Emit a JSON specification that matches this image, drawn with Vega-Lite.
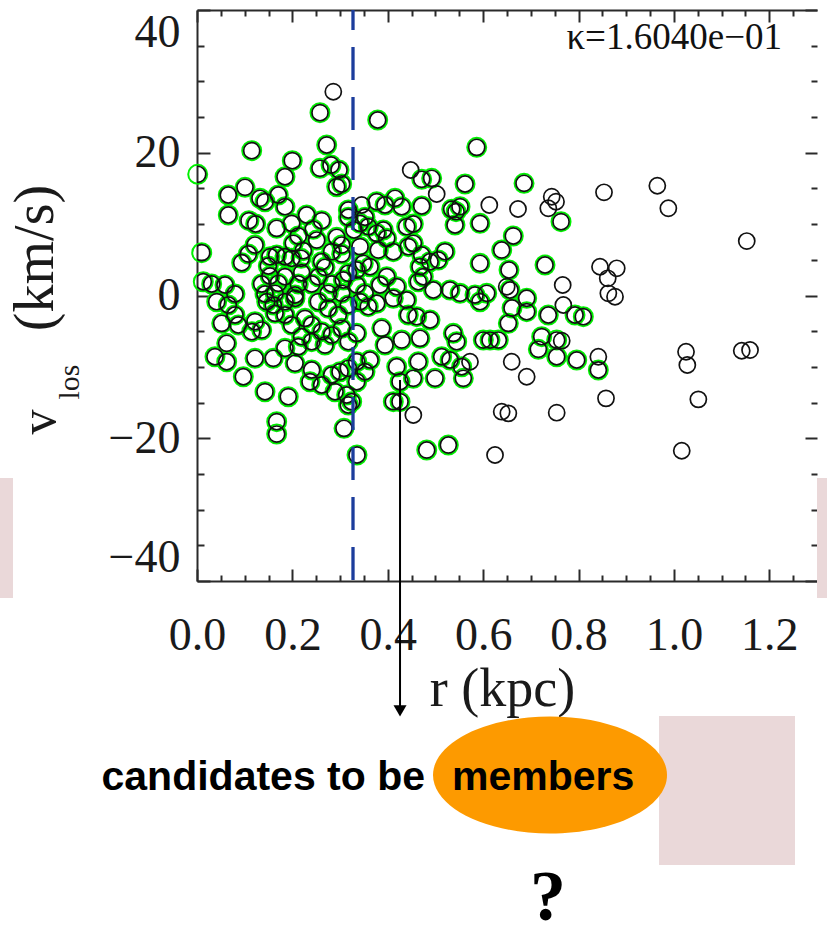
{
"$schema": "https://vega.github.io/schema/vega-lite/v6.json",
"width": 620, "height": 571,
"autosize": {"type": "none"},
"padding": {"left": 197, "top": 10, "right": 10, "bottom": 355},
"background": "white",
"config": {"view": {"stroke": null}},
"datasets": {"stars": [
{"r":0.2858,"v":28.55,"m":0},{"r":0.2579,"v":25.61,"m":1},{"r":0.3789,"v":24.59,"m":1},{"r":0.2720,"v":21.09,"m":1},{"r":0.1147,"v":20.29,"m":1},{"r":0.1998,"v":18.89,"m":1},{"r":0.2579,"v":17.82,"m":1},{"r":0.2810,"v":18.28,"m":1},{"r":0.2978,"v":17.58,"m":1},{"r":0.1845,"v":16.64,"m":1},{"r":0.0015,"v":16.98,"m":1},{"r":0.2929,"v":15.24,"m":1},{"r":0.3034,"v":15.62,"m":1},{"r":0.3173,"v":11.98,"m":1},{"r":0.3173,"v":10.96,"m":1},{"r":0.1007,"v":15.16,"m":1},{"r":0.0656,"v":14.08,"m":1},{"r":0.1321,"v":13.62,"m":1},{"r":0.1426,"v":13.14,"m":1},{"r":0.1705,"v":14.08,"m":1},{"r":0.1845,"v":12.44,"m":1},{"r":0.0656,"v":11.28,"m":1},{"r":0.1090,"v":10.48,"m":1},{"r":0.1231,"v":10.02,"m":1},{"r":0.1671,"v":9.41,"m":1},{"r":0.1986,"v":10.11,"m":1},{"r":0.2300,"v":11.28,"m":1},{"r":0.2615,"v":10.48,"m":1},{"r":0.2439,"v":9.27,"m":1},{"r":0.2510,"v":7.77,"m":1},{"r":0.2124,"v":8.34,"m":1},{"r":0.1216,"v":7.07,"m":1},{"r":0.2019,"v":7.31,"m":1},{"r":0.2229,"v":6.28,"m":1},{"r":0.2929,"v":8.15,"m":1},{"r":0.3034,"v":7.07,"m":1},{"r":0.2825,"v":6.14,"m":1},{"r":0.3034,"v":5.81,"m":1},{"r":0.0099,"v":6.00,"m":1},{"r":0.1076,"v":5.81,"m":1},{"r":0.0937,"v":4.59,"m":1},{"r":0.1531,"v":5.43,"m":1},{"r":0.1671,"v":5.67,"m":1},{"r":0.1845,"v":5.43,"m":1},{"r":0.1986,"v":5.21,"m":1},{"r":0.2181,"v":5.21,"m":1},{"r":0.2615,"v":4.73,"m":1},{"r":0.2684,"v":3.95,"m":1},{"r":0.1495,"v":4.13,"m":1},{"r":0.1531,"v":2.73,"m":1},{"r":0.1845,"v":2.63,"m":1},{"r":0.2195,"v":3.19,"m":1},{"r":0.2544,"v":2.63,"m":1},{"r":0.3173,"v":3.11,"m":1},{"r":0.3068,"v":2.17,"m":1},{"r":0.1357,"v":1.61,"m":1},{"r":0.1705,"v":1.71,"m":1},{"r":0.2124,"v":1.61,"m":1},{"r":0.2405,"v":1.61,"m":1},{"r":0.2825,"v":1.61,"m":1},{"r":0.0132,"v":1.93,"m":1},{"r":0.0308,"v":1.61,"m":1},{"r":0.0587,"v":1.47,"m":1},{"r":0.0797,"v":0.21,"m":1},{"r":0.1426,"v":0.21,"m":1},{"r":0.1636,"v":0.31,"m":1},{"r":0.2055,"v":0.07,"m":1},{"r":0.2753,"v":0.31,"m":1},{"r":0.3034,"v":0.31,"m":1},
{"r":0.5865,"v":20.76,"m":1},{"r":0.4481,"v":17.58,"m":0},{"r":0.4712,"v":16.28,"m":1},{"r":0.4921,"v":16.42,"m":1},{"r":0.5026,"v":14.22,"m":0},{"r":0.5620,"v":15.62,"m":1},{"r":0.6129,"v":12.68,"m":0},{"r":0.5341,"v":12.08,"m":1},{"r":0.5515,"v":12.44,"m":1},{"r":0.5431,"v":11.74,"m":1},{"r":0.5410,"v":9.88,"m":1},{"r":0.5934,"v":10.11,"m":1},{"r":0.6731,"v":12.12,"m":0},{"r":0.6857,"v":15.72,"m":1},{"r":0.3454,"v":12.68,"m":0},{"r":0.3768,"v":13.14,"m":1},{"r":0.3942,"v":12.68,"m":1},{"r":0.4152,"v":13.62,"m":1},{"r":0.4292,"v":12.44,"m":1},{"r":0.4712,"v":12.54,"m":1},{"r":0.4536,"v":10.02,"m":1},{"r":0.4397,"v":9.64,"m":1},{"r":0.3523,"v":10.96,"m":1},{"r":0.3418,"v":10.11,"m":1},{"r":0.3592,"v":9.64,"m":1},{"r":0.3906,"v":9.18,"m":1},{"r":0.3978,"v":8.01,"m":1},{"r":0.3768,"v":8.71,"m":1},{"r":0.3292,"v":9.18,"m":1},{"r":0.4536,"v":7.31,"m":1},{"r":0.4431,"v":6.84,"m":1},{"r":0.4116,"v":6.14,"m":1},{"r":0.3802,"v":6.37,"m":1},{"r":0.3418,"v":6.84,"m":1},{"r":0.3487,"v":4.51,"m":1},{"r":0.3628,"v":4.03,"m":1},{"r":0.3349,"v":3.57,"m":1},{"r":0.4712,"v":5.67,"m":1},{"r":0.4886,"v":4.73,"m":1},{"r":0.5200,"v":6.14,"m":1},{"r":0.5060,"v":4.97,"m":1},{"r":0.4676,"v":4.03,"m":1},{"r":0.4745,"v":2.63,"m":1},{"r":0.4640,"v":1.93,"m":1},{"r":0.5934,"v":4.51,"m":1},{"r":0.6389,"v":6.37,"m":1},{"r":0.6632,"v":8.34,"m":1},{"r":0.6542,"v":3.57,"m":1},{"r":0.6494,"v":1.23,"m":0},{"r":0.3978,"v":2.63,"m":1},{"r":0.4187,"v":1.23,"m":1},{"r":0.3837,"v":1.47,"m":1},{"r":0.3349,"v":1.47,"m":1},{"r":0.3523,"v":0.31,"m":1},{"r":0.5305,"v":0.77,"m":1},{"r":0.5515,"v":0.31,"m":1},{"r":0.4955,"v":0.77,"m":1},{"r":0.5829,"v":0.07,"m":1},{"r":0.6075,"v":0.31,"m":1},{"r":0.6563,"v":0.77,"m":1},
{"r":0.0413,"v":-0.87,"m":1},{"r":0.0656,"v":-1.33,"m":1},{"r":0.0797,"v":-2.73,"m":1},{"r":0.0518,"v":-3.90,"m":1},{"r":0.0866,"v":-4.13,"m":1},{"r":0.1216,"v":-3.67,"m":1},{"r":0.1147,"v":-5.07,"m":1},{"r":0.1357,"v":-4.84,"m":1},{"r":0.1462,"v":-0.87,"m":1},{"r":0.1600,"v":-1.33,"m":1},{"r":0.1845,"v":-0.87,"m":1},{"r":0.2055,"v":-0.39,"m":1},{"r":0.1636,"v":-2.50,"m":1},{"r":0.1845,"v":-2.73,"m":1},{"r":0.1986,"v":-4.13,"m":1},{"r":0.2265,"v":-3.20,"m":1},{"r":0.2405,"v":-4.13,"m":1},{"r":0.2544,"v":-0.87,"m":1},{"r":0.2753,"v":-1.79,"m":1},{"r":0.2963,"v":-2.73,"m":1},{"r":0.3173,"v":-1.33,"m":1},{"r":0.2615,"v":-5.07,"m":1},{"r":0.2825,"v":-5.54,"m":1},{"r":0.3034,"v":-4.60,"m":1},{"r":0.3173,"v":-6.47,"m":1},{"r":0.2684,"v":-6.94,"m":1},{"r":0.2405,"v":-6.47,"m":1},{"r":0.2195,"v":-5.77,"m":1},{"r":0.2124,"v":-7.18,"m":1},{"r":0.0623,"v":-6.70,"m":1},{"r":0.0377,"v":-8.58,"m":1},{"r":0.0623,"v":-9.28,"m":1},{"r":0.1216,"v":-8.80,"m":1},{"r":0.1600,"v":-8.80,"m":1},{"r":0.1845,"v":-7.40,"m":1},{"r":0.2055,"v":-9.50,"m":1},{"r":0.2405,"v":-10.44,"m":1},{"r":0.2370,"v":-12.08,"m":1},{"r":0.2615,"v":-12.54,"m":1},{"r":0.2825,"v":-11.14,"m":1},{"r":0.2999,"v":-10.68,"m":1},{"r":0.3173,"v":-10.20,"m":1},{"r":0.2894,"v":-13.48,"m":1},{"r":0.3139,"v":-13.94,"m":1},{"r":0.3173,"v":-15.34,"m":1},{"r":0.0971,"v":-11.38,"m":1},{"r":0.1426,"v":-13.48,"m":1},{"r":0.1914,"v":-14.18,"m":1},{"r":0.1671,"v":-17.68,"m":1},{"r":0.1671,"v":-19.41,"m":1},{"r":0.3082,"v":-18.61,"m":1},{"r":0.3355,"v":-22.35,"m":1},
{"r":0.3418,"v":-0.87,"m":1},{"r":0.3592,"v":-1.57,"m":1},{"r":0.3768,"v":-1.09,"m":1},{"r":0.4116,"v":-0.39,"m":1},{"r":0.4397,"v":-0.63,"m":1},{"r":0.6605,"v":-1.75,"m":1},{"r":0.4431,"v":-2.73,"m":1},{"r":0.4607,"v":-2.97,"m":1},{"r":0.4886,"v":-3.43,"m":1},{"r":0.3873,"v":-4.60,"m":1},{"r":0.4292,"v":-6.24,"m":1},{"r":0.4676,"v":-6.00,"m":1},{"r":0.3942,"v":-6.94,"m":1},{"r":0.3349,"v":-5.30,"m":1},{"r":0.3349,"v":-9.28,"m":1},{"r":0.3628,"v":-9.04,"m":1},{"r":0.3523,"v":-10.68,"m":1},{"r":0.3349,"v":-12.08,"m":1},{"r":0.4187,"v":-9.98,"m":1},{"r":0.4257,"v":-12.08,"m":1},{"r":0.4536,"v":-11.60,"m":1},{"r":0.4640,"v":-9.28,"m":1},{"r":0.4991,"v":-11.60,"m":1},{"r":0.5131,"v":-8.58,"m":1},{"r":0.5374,"v":-5.30,"m":1},{"r":0.5446,"v":-6.47,"m":1},{"r":0.5305,"v":-9.04,"m":1},{"r":0.5550,"v":-9.98,"m":1},{"r":0.5584,"v":-11.60,"m":1},{"r":0.5724,"v":-9.28,"m":0},{"r":0.6003,"v":-6.24,"m":1},{"r":0.6144,"v":-6.24,"m":1},{"r":0.6318,"v":-6.24,"m":1},{"r":0.6528,"v":-3.90,"m":1},{"r":0.6599,"v":-9.28,"m":0},{"r":0.4116,"v":-14.88,"m":1},{"r":0.4257,"v":-14.88,"m":1},{"r":0.4536,"v":-16.74,"m":0},{"r":0.6389,"v":-16.28,"m":0},{"r":0.6528,"v":-16.51,"m":0},{"r":0.4817,"v":-21.65,"m":1},{"r":0.5270,"v":-20.95,"m":1},{"r":0.6249,"v":-22.35,"m":0},{"r":0.3244,"v":-14.88,"m":1},
{"r":0.7438,"v":13.84,"m":0},{"r":0.7528,"v":13.14,"m":0},{"r":0.7366,"v":12.22,"m":0},{"r":0.7633,"v":10.34,"m":1},{"r":0.8534,"v":14.46,"m":0},{"r":0.9652,"v":15.38,"m":0},{"r":0.9883,"v":12.22,"m":0},{"r":1.1527,"v":7.63,"m":0},{"r":0.7297,"v":4.27,"m":1},{"r":0.8450,"v":4.03,"m":0},{"r":0.8801,"v":3.81,"m":0},{"r":0.8612,"v":2.41,"m":0},{"r":0.8625,"v":0.31,"m":0},{"r":0.8765,"v":-0.17,"m":0},{"r":0.7668,"v":1.47,"m":0},{"r":0.6913,"v":-0.39,"m":1},{"r":0.5934,"v":-0.87,"m":1},{"r":0.6913,"v":-2.27,"m":1},{"r":0.7366,"v":-2.73,"m":1},{"r":0.7681,"v":-1.33,"m":0},{"r":0.7926,"v":-2.73,"m":1},{"r":0.8100,"v":-2.97,"m":1},{"r":0.7228,"v":-5.77,"m":1},{"r":0.7157,"v":-7.54,"m":1},{"r":0.7542,"v":-6.24,"m":1},{"r":0.7647,"v":-6.33,"m":0},{"r":0.7542,"v":-8.58,"m":1},{"r":0.7962,"v":-9.04,"m":1},{"r":0.8415,"v":-8.58,"m":0},{"r":0.8415,"v":-10.44,"m":1},{"r":0.6913,"v":-11.38,"m":0},{"r":0.8576,"v":-14.41,"m":0},{"r":0.7542,"v":-16.42,"m":0},{"r":1.0254,"v":-7.88,"m":0},{"r":1.0281,"v":-9.74,"m":0},{"r":1.1422,"v":-7.74,"m":0},{"r":1.1596,"v":-7.64,"m":0},{"r":1.0512,"v":-14.55,"m":0},{"r":1.0164,"v":-21.75,"m":0}
]},
"data": {"name": "stars"},
"resolve": {"axis": {"x": "independent", "y": "independent"}},
"layer": [
{"data": {"values": [{}]}, "mark": {"type": "rect", "color": "#ead8d9"},
 "encoding": {"x": {"datum": -0.4131, "type": "quantitative", "scale": {"domain": [0, 1.3], "nice": false, "zero": false}, "axis": null}, "x2": {"datum": -0.3858},
  "y": {"datum": -25.57, "type": "quantitative", "scale": {"domain": [-40, 40], "nice": false, "zero": false}, "axis": null}, "y2": {"datum": -42.38}}},
{"data": {"values": [{}]}, "mark": {"type": "rect", "color": "#ead8d9"},
 "encoding": {"x": {"datum": 1.3, "type": "quantitative", "scale": {"domain": [0, 1.3], "nice": false, "zero": false}, "axis": null}, "x2": {"datum": 1.33},
  "y": {"datum": -25.57, "type": "quantitative", "scale": {"domain": [-40, 40], "nice": false, "zero": false}, "axis": null}, "y2": {"datum": -42.38}}},
{"data": {"values": [{}]}, "mark": {"type": "rect", "color": "#ead8d9"},
 "encoding": {"x": {"datum": 0.9688, "type": "quantitative", "scale": {"domain": [0, 1.3], "nice": false, "zero": false}, "axis": null}, "x2": {"datum": 1.2539},
  "y": {"datum": -58.91, "type": "quantitative", "scale": {"domain": [-40, 40], "nice": false, "zero": false}, "axis": null}, "y2": {"datum": -79.79}}},
{"transform": [{"filter": "datum.m == 1"}],
 "mark": {"type": "point", "shape": "circle", "filled": false, "stroke": "#00f000", "strokeWidth": 2, "size": 360, "opacity": 1},
 "encoding": {
  "x": {"field": "r", "type": "quantitative", "scale": {"domain": [0, 1.3], "nice": false, "zero": false},
   "axis": {"orient": "bottom", "values": [0, 0.2, 0.4, 0.6, 0.8, 1.0, 1.2], "format": ".1f", "ticks": false, "domain": true, "domainColor": "#2a2a2a", "domainWidth": 2, "grid": false,
    "labelFont": "Liberation Serif", "labelFontSize": 46, "labelColor": "#1a1a1a", "labelPadding": 32, "labelFlush": false, "labelOverlap": false,
    "title": "r (kpc)", "titleFont": "Liberation Serif", "titleFontSize": 54, "titleFontWeight": "normal", "titleColor": "#1a1a1a", "titleX": 305, "titleY": 124, "titleBaseline": "alphabetic"}},
  "y": {"field": "v", "type": "quantitative", "scale": {"domain": [-40, 40], "nice": false, "zero": false},
   "axis": {"orient": "left", "values": [-40, -20, 0, 20, 40], "ticks": false, "domain": true, "domainColor": "#2a2a2a", "domainWidth": 2, "grid": false,
    "labelFont": "Liberation Serif", "labelFontSize": 46, "labelColor": "#1a1a1a", "labelPadding": 17, "labelFlush": true, "labelOverlap": false, "title": null}}}},
{"mark": {"type": "point", "shape": "circle", "filled": false, "stroke": "#111111", "strokeWidth": 1.7, "size": 260, "opacity": 1, "clip": true},
 "encoding": {
  "x": {"field": "r", "type": "quantitative", "scale": {"domain": [0, 1.3], "nice": false, "zero": false},
   "axis": {"orient": "bottom", "values": [0, 0.2, 0.4, 0.6, 0.8, 1.0, 1.2], "labels": false, "domain": false, "grid": false, "ticks": true, "tickSize": -12, "tickColor": "#2a2a2a", "tickWidth": 2, "title": null}},
  "y": {"field": "v", "type": "quantitative", "scale": {"domain": [-40, 40], "nice": false, "zero": false},
   "axis": {"orient": "left", "values": [-40, -20, 0, 20, 40], "labels": false, "domain": false, "grid": false, "ticks": true, "tickSize": -13, "tickColor": "#2a2a2a", "tickWidth": 2, "title": null}}}},
{"data": {"values": [{}]}, "mark": {"type": "rule", "stroke": "#1c3d9c", "strokeWidth": 3.3, "strokeDash": [33, 17], "strokeDashOffset": 13},
 "encoding": {"x": {"datum": 0.3271, "type": "quantitative", "scale": {"domain": [0, 1.3], "nice": false, "zero": false}, "axis": null}}},
{"data": {"values": [{}]}, "mark": {"type": "text", "text": "κ=1.6040e−01", "font": "Liberation Serif", "fontSize": 37, "align": "right", "baseline": "middle", "color": "#111111"},
 "encoding": {
  "x": {"datum": 1.2267, "type": "quantitative", "scale": {"domain": [0, 1.3], "nice": false, "zero": false},
   "axis": {"orient": "bottom", "values": [0.05, 0.1, 0.15, 0.25, 0.3, 0.35, 0.45, 0.5, 0.55, 0.65, 0.7, 0.75, 0.85, 0.9, 0.95, 1.05, 1.1, 1.15, 1.25], "labels": false, "domain": false, "grid": false, "ticks": true, "tickSize": -6, "tickColor": "#2a2a2a", "tickWidth": 2, "title": null}},
  "y": {"datum": 36.1, "type": "quantitative", "scale": {"domain": [-40, 40], "nice": false, "zero": false},
   "axis": {"orient": "left", "values": [-35, -30, -25, -15, -10, -5, 5, 10, 15, 25, 30, 35], "labels": false, "domain": false, "grid": false, "ticks": true, "tickSize": -7, "tickColor": "#2a2a2a", "tickWidth": 2, "title": null}}}},
{"data": {"values": [{}]}, "mark": {"type": "rule", "color": "#000000", "strokeWidth": 2},
 "encoding": {
  "x": {"datum": 0.4257, "type": "quantitative", "scale": {"domain": [0, 1.3], "nice": false, "zero": false},
   "axis": {"orient": "top", "values": [0, 0.2, 0.4, 0.6, 0.8, 1.0, 1.2], "labels": false, "domain": true, "domainColor": "#2a2a2a", "domainWidth": 2, "grid": false, "ticks": true, "tickSize": -12, "tickColor": "#2a2a2a", "tickWidth": 2, "title": null}},
  "y": {"datum": -11.84, "type": "quantitative", "scale": {"domain": [-40, 40], "nice": false, "zero": false},
   "axis": {"orient": "right", "values": [-40, -20, 0, 20, 40], "labels": false, "domain": false, "grid": false, "ticks": true, "tickSize": -12, "tickColor": "#2a2a2a", "tickWidth": 2, "title": null}},
  "y2": {"datum": -57.5}}},
{"data": {"values": [{}]}, "mark": {"type": "point", "shape": "triangle-down", "filled": true, "color": "#000000", "size": 170, "opacity": 1},
 "encoding": {
  "x": {"datum": 0.4257, "type": "quantitative", "scale": {"domain": [0, 1.3], "nice": false, "zero": false},
   "axis": {"orient": "top", "values": [0.05, 0.1, 0.15, 0.25, 0.3, 0.35, 0.45, 0.5, 0.55, 0.65, 0.7, 0.75, 0.85, 0.9, 0.95, 1.05, 1.1, 1.15, 1.25], "labels": false, "domain": false, "grid": false, "ticks": true, "tickSize": -6, "tickColor": "#2a2a2a", "tickWidth": 2, "title": null}},
  "y": {"datum": -58.2, "type": "quantitative", "scale": {"domain": [-40, 40], "nice": false, "zero": false},
   "axis": {"orient": "right", "values": [-35, -30, -25, -15, -10, -5, 5, 10, 15, 25, 30, 35], "labels": false, "domain": false, "grid": false, "ticks": true, "tickSize": -6, "tickColor": "#2a2a2a", "tickWidth": 2, "title": null}}}},
{"data": {"values": [{}]}, "mark": {"type": "point", "shape": "M -1 0 A 1 0.5 0 1 0 1 0 A 1 0.5 0 1 0 -1 0 Z", "filled": true, "color": "#fd9a00", "size": 54756, "opacity": 1},
 "encoding": {"x": {"datum": 0.7402, "type": "quantitative", "scale": {"domain": [0, 1.3], "nice": false, "zero": false}, "axis": null},
  "y": {"datum": -67.18, "type": "quantitative", "scale": {"domain": [-40, 40], "nice": false, "zero": false}, "axis": null}}},
{"data": {"values": [{}]}, "mark": {"type": "text", "text": "candidates to be", "font": "Liberation Sans", "fontWeight": "bold", "fontSize": 41, "align": "right", "baseline": "alphabetic", "color": "#000000"},
 "encoding": {"x": {"datum": 0.4781, "type": "quantitative", "scale": {"domain": [0, 1.3], "nice": false, "zero": false}, "axis": null},
  "y": {"datum": -69.29, "type": "quantitative", "scale": {"domain": [-40, 40], "nice": false, "zero": false}, "axis": null}}},
{"data": {"values": [{}]}, "mark": {"type": "text", "text": "members", "font": "Liberation Sans", "fontWeight": "bold", "fontSize": 41, "align": "left", "baseline": "alphabetic", "color": "#000000"},
 "encoding": {"x": {"datum": 0.5347, "type": "quantitative", "scale": {"domain": [0, 1.3], "nice": false, "zero": false}, "axis": null},
  "y": {"datum": -69.29, "type": "quantitative", "scale": {"domain": [-40, 40], "nice": false, "zero": false}, "axis": null}}},
{"data": {"values": [{}]}, "mark": {"type": "text", "text": "?", "font": "Liberation Serif", "fontWeight": "bold", "fontSize": 72, "align": "center", "baseline": "alphabetic", "color": "#000000"},
 "encoding": {"x": {"datum": 0.736, "type": "quantitative", "scale": {"domain": [0, 1.3], "nice": false, "zero": false}, "axis": null},
  "y": {"datum": -87.5, "type": "quantitative", "scale": {"domain": [-40, 40], "nice": false, "zero": false}, "axis": null}}},
{"data": {"values": [{}]}, "mark": {"type": "text", "text": "v", "font": "Liberation Serif", "fontSize": 50, "angle": 270, "align": "center", "baseline": "alphabetic", "color": "#1a1a1a"},
 "encoding": {"x": {"datum": -0.2978, "type": "quantitative", "scale": {"domain": [0, 1.3], "nice": false, "zero": false}, "axis": null},
  "y": {"datum": -17.73, "type": "quantitative", "scale": {"domain": [-40, 40], "nice": false, "zero": false}, "axis": null}}},
{"data": {"values": [{}]}, "mark": {"type": "text", "text": "los", "font": "Liberation Serif", "fontSize": 30, "angle": 270, "align": "center", "baseline": "alphabetic", "color": "#1a1a1a"},
 "encoding": {"x": {"datum": -0.2474, "type": "quantitative", "scale": {"domain": [0, 1.3], "nice": false, "zero": false}, "axis": null},
  "y": {"datum": -12.12, "type": "quantitative", "scale": {"domain": [-40, 40], "nice": false, "zero": false}, "axis": null}}},
{"data": {"values": [{}]}, "mark": {"type": "text", "text": "(km/s)", "font": "Liberation Serif", "fontSize": 56, "angle": 270, "align": "center", "baseline": "alphabetic", "color": "#1a1a1a"},
 "encoding": {"x": {"datum": -0.302, "type": "quantitative", "scale": {"domain": [0, 1.3], "nice": false, "zero": false}, "axis": null},
  "y": {"datum": 5.25, "type": "quantitative", "scale": {"domain": [-40, 40], "nice": false, "zero": false}, "axis": null}}}
]
}
